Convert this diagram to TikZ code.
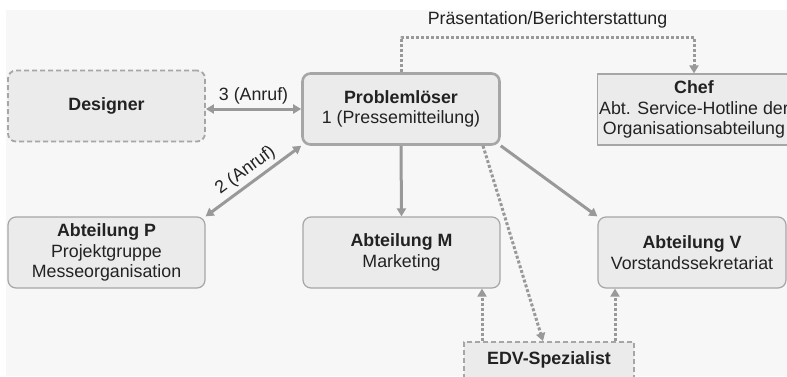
\documentclass[tikz,border=0pt]{standalone}
\usepackage{fontspec}
\setmainfont{Liberation Sans}
\usetikzlibrary{arrows.meta}
\definecolor{hintergrund}{HTML}{F7F7F7}
\definecolor{kasten}{HTML}{EBEBEB}
\definecolor{rand}{HTML}{A6A6A6}
\definecolor{pfeil}{HTML}{999999}
\definecolor{schrift}{HTML}{222222}
\begin{document}
\begin{tikzpicture}[x=1pt,y=-1pt,>={Triangle[length=8pt,width=9pt]},
	font=\fontsize{17.8}{20.5}\selectfont, line join=round,
	abt/.style={draw=rand, fill=kasten, rounded corners=8pt, line width=1.2pt,
		minimum width=197pt, minimum height=71pt, align=center, text=schrift, inner sep=2pt},
	gestrichelt/.style={abt, dash pattern=on 5pt off 3pt, line width=1.8pt},
	loeser/.style={abt, line width=2.6pt},
	chefbox/.style={abt, rounded corners=0pt},
	verbindung/.style={draw=pfeil, line width=3pt},
	punktiert/.style={draw=pfeil, line width=3pt, dash pattern=on 3pt off 2pt}]
	\useasboundingbox (0,0) rectangle (787,376);
	\fill[hintergrund] (6,10) rectangle (787,376);
	
	% Kaesten
	\node[gestrichelt] (designer) at (106.5,106) {\textbf{Designer}};
	\node[loeser] (loeser) at (401,109) {\textbf{Problemlöser}\\1 (Pressemitteilung)};
	\node[chefbox, minimum width=192pt, minimum height=71pt] (chef) at (694,109.5) {\textbf{Chef}\\Abt. Service-Hotline der\\Organisationsabteilung};
	\node[abt] (abtp) at (106.5,252.5) {\textbf{Abteilung P}\\Projektgruppe\\Messeorganisation};
	\node[abt] (abtm) at (401.5,252.5) {\textbf{Abteilung M}\\Marketing};
	\node[abt, minimum width=188pt] (abtv) at (692,252.5) {\textbf{Abteilung V}\\Vorstandssekretariat};
	\node[gestrichelt, rounded corners=0pt, minimum width=170pt, minimum height=36pt] (edv) at (549,360) {\textbf{EDV-Spezialist}};
	
	% Verbindungen
	\draw[verbindung,<->] (loeser.west) -- (loeser.west -| designer.east) node[midway,above,text=schrift]{3 (Anruf)};
	\draw[verbindung,<->] (loeser.south west) -- (abtp.north east) node[midway,above,sloped,text=schrift]{2 (Anruf)};
	\draw[verbindung,->] (loeser.south) -- (abtm.north);
	\draw[verbindung,->] (loeser.south east) -- (abtv.north west);
	\draw[punktiert,->] (loeser.north) -- ++(0,-35) -| (chef.north) node[pos=0.25,above=4pt,text=schrift]{Präsentation/Berichterstattung};
	\draw[punktiert,->] ([xshift=82pt]loeser.south) -- ([xshift=-6pt]edv.north);
	\draw[punktiert,->] ([xshift=-67pt]edv.north) -- ([xshift=-67pt]edv.north |- abtm.south);
	\draw[punktiert,->] ([xshift=66pt]edv.north) -- ([xshift=66pt]edv.north |- abtv.south);
\end{tikzpicture}
\end{document}
